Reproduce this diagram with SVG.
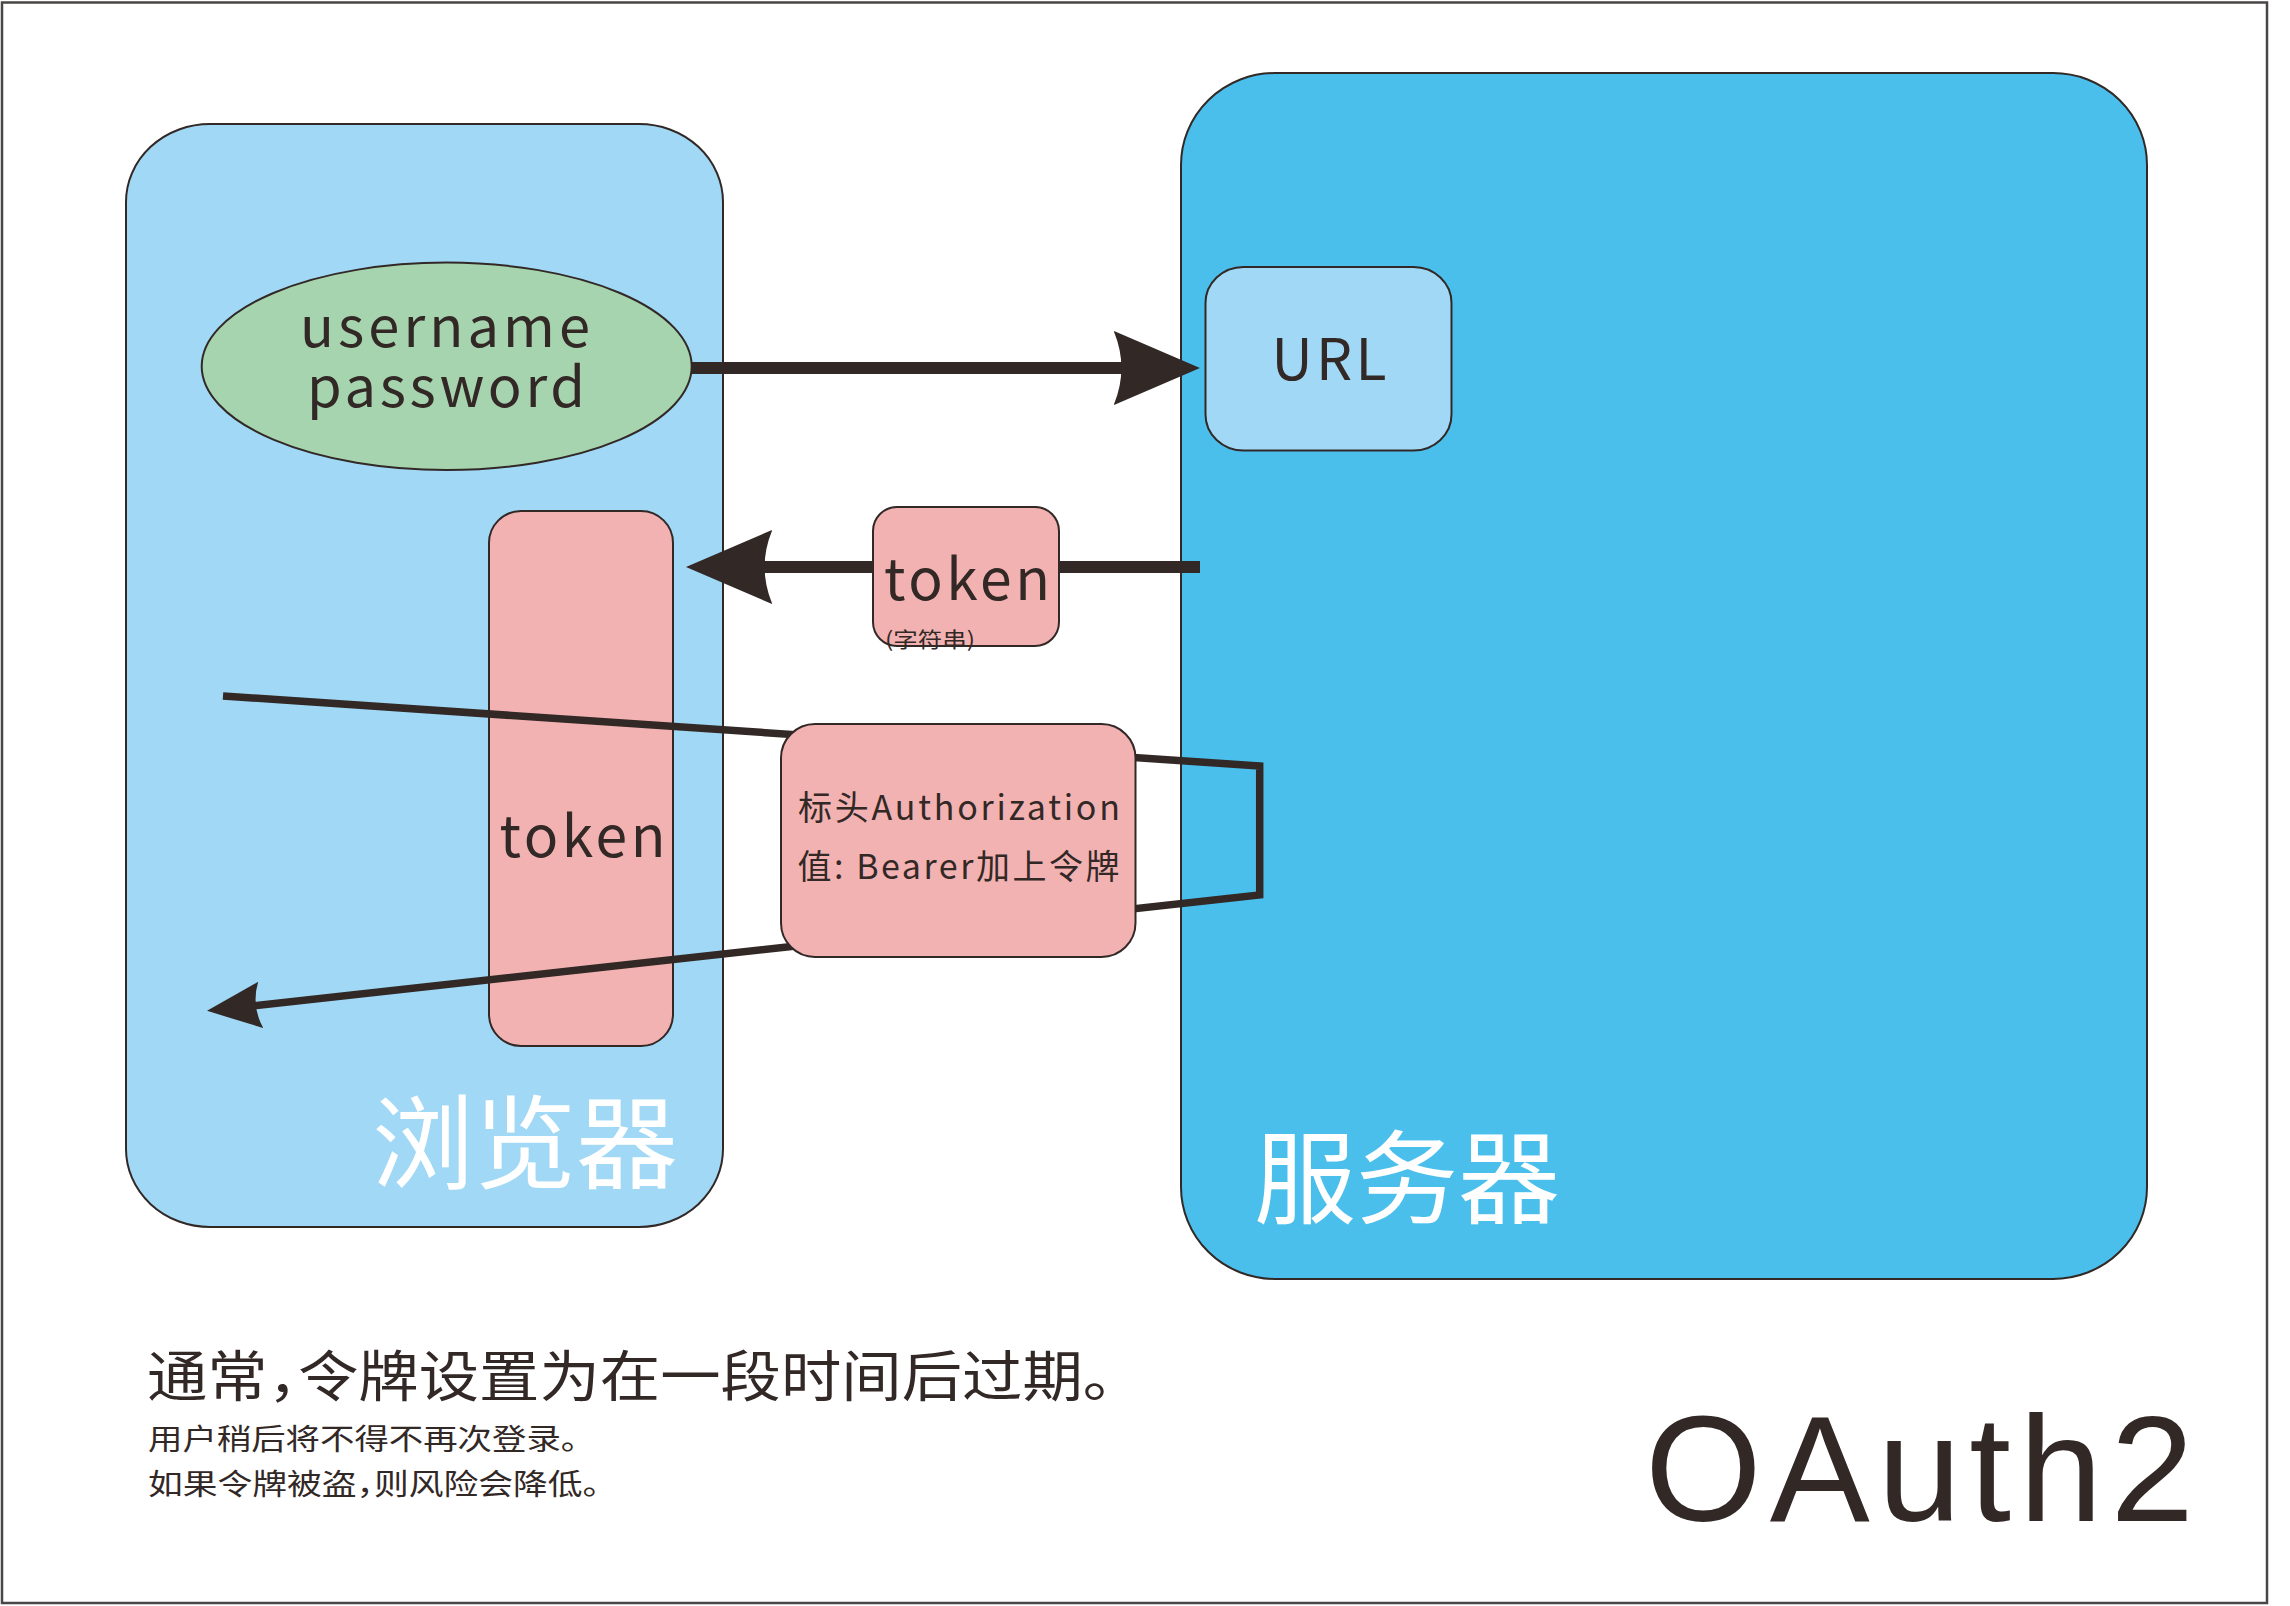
<svg xmlns="http://www.w3.org/2000/svg" width="2290" height="1606" viewBox="0 0 2290 1606">
  <style>
    .shape { stroke: #322826; stroke-width: 2; }
    .light { fill: #A0D8F5; }
    .server { fill: #4BBFEC; }
    .pink { fill: #F2B2B2; }
    .green { fill: #A6D4AE; }
    .txt { font-family: "Noto Sans CJK SC", "Noto Sans", sans-serif; fill: #322826; }
    .note { font-feature-settings: "halt"; }
    .white { fill: #FFFFFF; }
    .conn { fill: none; stroke: #322826; stroke-linejoin: miter; stroke-linecap: butt; }
  </style>
  <defs>
    <marker id="head" markerUnits="strokeWidth" viewBox="0 -3.2 7.3 6.4" markerWidth="7.3" markerHeight="6.4" refX="0.9" refY="0" orient="auto">
      <path d="M0,-3.1 L7.2,0 L0,3.1 Q1.3,0 0,-3.1 Z" fill="#322826"/>
    </marker>
  </defs>

  <rect x="0" y="0" width="2290" height="1606" fill="#FFFFFF"/>
  <rect id="frame" x="2" y="2.5" width="2265" height="1600.5" fill="none" stroke="#4a4646" stroke-width="2.5"/>

  <g id="browser">
    <rect class="shape light" x="126" y="124" width="597" height="1103" rx="84" ry="78"/>
    <text class="txt white" x="372" y="1181" font-size="102">浏览器</text>
  </g>

  <g id="server">
    <rect class="shape server" x="1181" y="73" width="966" height="1206" rx="94" ry="92"/>
    <text class="txt white" x="1254" y="1216" font-size="102">服务器</text>
  </g>

  <g id="url">
    <rect class="shape light" x="1205.5" y="267" width="246" height="183.5" rx="38" ry="36"/>
    <text class="txt" x="1329" y="380" font-size="57" text-anchor="middle" textLength="115" lengthAdjust="spacing">URL</text>
  </g>

  <g id="token-stored">
    <rect class="shape pink" x="489" y="511" width="184" height="535" rx="32" ry="32"/>
    <text class="txt" x="582.5" y="857" font-size="57" text-anchor="middle" textLength="166" lengthAdjust="spacing">token</text>
  </g>

  <g id="connectors">
    <line class="conn" x1="690" y1="368" x2="1124.4" y2="368" stroke-width="12" marker-end="url(#head)"/>
    <line class="conn" x1="1200" y1="567" x2="761.6" y2="567" stroke-width="12" marker-end="url(#head)"/>
    <polyline class="conn" points="223,696 1259.7,766 1259.7,895 254,1005.7" stroke-width="7.5" marker-end="url(#head)"/>
  </g>

  <g id="credentials">
    <ellipse class="shape green" cx="446.7" cy="366.3" rx="245" ry="103.7"/>
    <text class="txt" x="445" y="347" font-size="56" text-anchor="middle" textLength="290" lengthAdjust="spacing">username</text>
    <text class="txt" x="446" y="407" font-size="56" text-anchor="middle" textLength="278" lengthAdjust="spacing">password</text>
  </g>

  <g id="token-response">
    <rect class="shape pink" x="873" y="507" width="186" height="139" rx="24" ry="24"/>
    <text class="txt" x="967" y="600" font-size="57" text-anchor="middle" textLength="166" lengthAdjust="spacing">token</text>
    <text class="txt" x="885" y="647" font-size="21" textLength="90" lengthAdjust="spacingAndGlyphs">(字符串)</text>
  </g>

  <g id="auth-header">
    <rect class="shape pink" x="781" y="724" width="354.5" height="233" rx="34" ry="34"/>
    <text class="txt" x="959" y="820" font-size="34" text-anchor="middle" textLength="322" lengthAdjust="spacing">标头Authorization</text>
    <text class="txt" x="958.5" y="879" font-size="34" text-anchor="middle" textLength="322" lengthAdjust="spacing">值: Bearer加上令牌</text>
  </g>

  <g id="notes">
    <text class="txt note" x="147" y="1396" font-size="55" textLength="966" lengthAdjust="spacingAndGlyphs">通常，令牌设置为在一段时间后过期。</text>
    <text class="txt note" x="148" y="1450" font-size="29" textLength="430" lengthAdjust="spacingAndGlyphs">用户稍后将不得不再次登录。</text>
    <text class="txt note" x="148" y="1494.5" font-size="29" textLength="452" lengthAdjust="spacingAndGlyphs">如果令牌被盗，则风险会降低。</text>
  </g>

  <g id="title">
    <text x="1645" y="1521" font-family="'Liberation Sans', Arial, sans-serif" font-size="150" fill="#322826" textLength="549" lengthAdjust="spacing">OAuth2</text>
  </g>
</svg>
